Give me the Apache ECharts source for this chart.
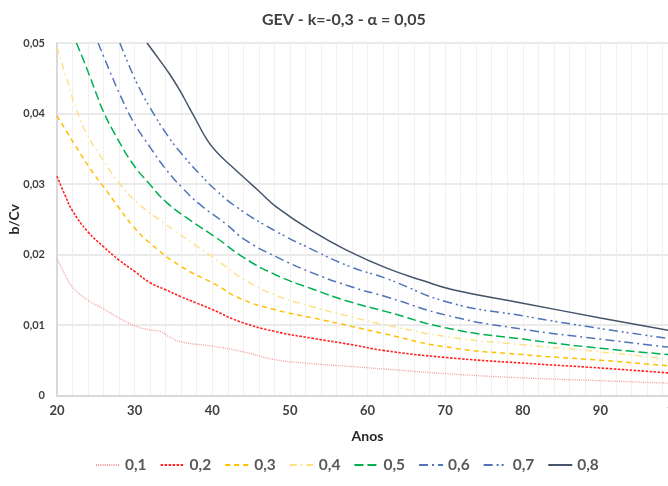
<!DOCTYPE html>
<html>
<head>
<meta charset="utf-8">
<script src="https://cdn.jsdelivr.net/npm/echarts@6/dist/echarts.min.js"></script>
<style>
html,body{margin:0;padding:0;background:#fff;overflow:hidden;}
#chart{width:668px;height:486px;}
</style>
</head>
<body>
<div id="chart"></div>
<script>
// Data: [Anos, b/Cv]
const seriesNames = ['0,1','0,2','0,3','0,4','0,5','0,6','0,7','0,8'];
const s01 = [[20,0.0194],[21,0.0172],[22,0.0154],[24,0.0135],[26,0.0123],[28,0.0110],[30,0.0099],[32,0.0093],[33.3,0.0091],[34.5,0.0083],[36,0.0076],[40,0.0070],[44,0.0062],[48,0.0051],[52,0.0046],[58,0.0041],[64,0.0036],[70,0.0031],[80,0.0025],[90,0.0021],[100,0.0017]];
const s02 = [[20,0.0311],[21,0.0285],[22,0.0262],[24,0.0232],[26,0.0211],[28,0.0192],[30,0.0176],[32,0.0160],[34,0.0150],[36,0.0140],[38,0.0131],[40,0.0122],[43.5,0.0105],[48,0.0091],[53,0.0081],[58,0.0072],[62,0.0064],[70,0.0054],[80,0.0046],[90,0.0039],[100,0.0031]];
const s03 = [[20,0.0397],[22.5,0.0352],[24.7,0.0315],[26,0.0296],[28,0.0266],[29.8,0.0240],[32,0.0216],[36,0.0183],[40.5,0.0157],[43.5,0.0138],[48,0.0122],[53,0.0110],[58,0.0098],[62,0.0088],[70,0.0069],[80,0.0058],[90,0.0050],[100,0.0041]];
const s04 = [[20,0.0494],[21.2,0.0451],[22.5,0.0406],[23.8,0.0372],[26,0.0333],[28.1,0.0300],[30.3,0.0274],[34.1,0.0242],[38,0.0212],[41,0.0189],[44,0.0165],[48.2,0.0142],[52.9,0.0126],[57.7,0.0112],[62.4,0.0100],[70.5,0.0083],[80,0.0072],[90,0.0062],[100,0.0050]];
const s05 = [[22.5,0.050],[23.8,0.0465],[25.1,0.0427],[26,0.0402],[27.7,0.0366],[29.8,0.0328],[32,0.0299],[34.1,0.0274],[37.1,0.0249],[40.5,0.0224],[44,0.0196],[48.2,0.0171],[52.9,0.0151],[57.7,0.0133],[62.4,0.0119],[70.5,0.0095],[80,0.0080],[90,0.0067],[100,0.0057]];
const s06 = [[25.3,0.050],[26.8,0.0460],[28.1,0.0427],[29.8,0.0389],[32,0.0352],[34.1,0.0320],[36.2,0.0294],[38.4,0.0271],[41.8,0.0243],[44.2,0.0221],[48.2,0.0197],[52.9,0.0174],[57.7,0.0155],[62.4,0.0140],[70.5,0.0113],[80,0.0094],[90,0.0080],[100,0.0067]];
const s07 = [[28.1,0.050],[29.4,0.0465],[30.7,0.0434],[32,0.0408],[34.1,0.0371],[36.2,0.0341],[38.4,0.0314],[40.5,0.0291],[43.3,0.0266],[48.2,0.0233],[52.9,0.0207],[57.7,0.0183],[62.4,0.0166],[70.5,0.0132],[80,0.0113],[90,0.0095],[100,0.0079]];
const s08 = [[31.6,0.050],[33.2,0.0476],[34.5,0.0456],[35.8,0.0433],[37.1,0.0407],[38,0.0389],[39.2,0.0365],[40.5,0.0346],[42.7,0.0323],[44.5,0.0305],[46.1,0.0289],[48.2,0.0268],[52.9,0.0233],[57.7,0.0204],[62.4,0.0181],[67.1,0.0163],[71,0.0150],[80,0.0131],[90,0.0110],[100,0.0090]];
const allData = [s01,s02,s03,s04,s05,s06,s07,s08];

const styles = [
  {color:'#F19A9A', width:1.3, type:[1,1.2]},
  {color:'#FF2020', width:1.6, type:[2.5,1.5]},
  {color:'#FFC000', width:1.5, type:[5,4]},
  {color:'#FFE08A', width:1.5, type:[7,4,1.5,4]},
  {color:'#00B050', width:1.5, type:[9,4]},
  {color:'#4F74BA', width:1.5, type:[9,4,2,4]},
  {color:'#4F74BA', width:1.5, type:[9,4,2,3,2,4]},
  {color:'#44546A', width:1.5, type:'solid'}
];

const FONT = 'Lato, "Open Sans", sans-serif';
const chart = echarts.init(document.getElementById('chart'), null, {renderer:'canvas'});
chart.setOption({
  animation:false,
  backgroundColor:'#fff',
  title:{
    text:'GEV - k=-0,3 - α = 0,05',
    left:257, top:7,
    textStyle:{fontFamily:FONT, fontSize:16, fontWeight:'bold', color:'#404040'}
  },
  legend:{
    bottom:8, left:90,
    itemWidth:24, itemHeight:10, itemGap:13,
    itemStyle:{opacity:0},
    textStyle:{fontFamily:FONT, fontSize:15.5, fontWeight:'bold', color:'#595959'},
    data:seriesNames
  },
  grid:{left:57, width:621, top:43, bottom:90.5, containLabel:false, outerBoundsMode:'none'},
  xAxis:{
    type:'value', min:20, max:100, interval:10,
    name:'Anos', nameLocation:'middle', nameGap:34,
    nameTextStyle:{fontFamily:FONT, fontSize:14, fontWeight:'bold', color:'#262626'},
    axisLine:{show:true, lineStyle:{color:'#D9D9D9', width:2}},
    axisTick:{show:false},
    axisLabel:{fontFamily:FONT, fontSize:13, fontWeight:'bold', color:'#404040', margin:9},
    splitLine:{show:true, lineStyle:{color:'#F0F0F0', width:1}},
    minorTick:{show:false, splitNumber:5},
    minorSplitLine:{show:true, lineStyle:{color:'#F0F0F0', width:1}}
  },
  yAxis:{
    type:'value', min:0, max:0.05, interval:0.01,
    name:'b/Cv', nameLocation:'middle', nameGap:36, nameMoveOverlap:false,
    nameTextStyle:{fontFamily:FONT, fontSize:14, fontWeight:'bold', color:'#262626'},
    axisLine:{show:true, lineStyle:{color:'#D9D9D9', width:2}},
    axisTick:{show:false},
    axisLabel:{fontFamily:FONT, fontSize:11, fontWeight:'bold', color:'#404040', margin:12,
      formatter:function(v){return v===0?'0':v.toFixed(2).replace('.',',');}},
    splitLine:{show:true, lineStyle:{color:'#E3E3E3', width:1.5}}
  },
  series: allData.map(function(d,i){
    return {
      name:seriesNames[i], type:'line', data:d,
      showSymbol:false, symbol:'none', smooth:0.5,
      clip:true,
      lineStyle:{color:styles[i].color, width:styles[i].width, type:styles[i].type},
      itemStyle:{color:styles[i].color}
    };
  })
});
</script>
</body>
</html>
